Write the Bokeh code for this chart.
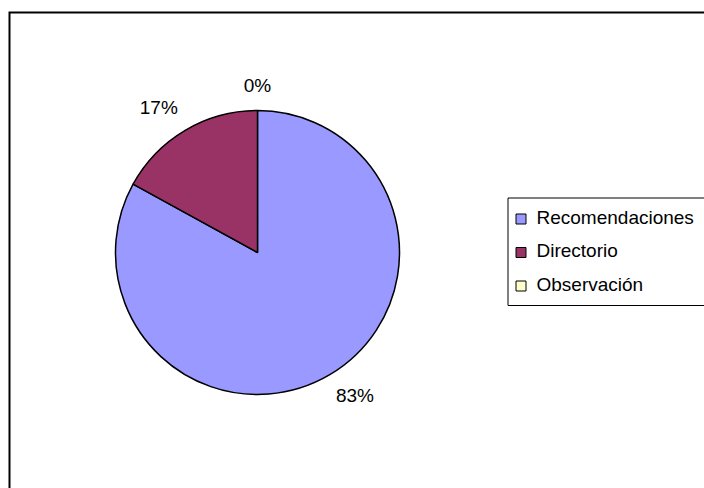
import math
from bokeh.plotting import figure
from bokeh.models import Range1d
from bokeh.core.properties import value
from bokeh.embed import file_html
from bokeh.resources import INLINE

# ---- data ----
categories = ["Recomendaciones", "Directorio", "Observación"]
percentages = [83, 17, 0]
pct_labels = ["83%", "17%", "0%"]
colors = ["#9999FF", "#993366", "#FFFFCC"]

W, H = 704, 488
FONT = "Liberation Sans"
FS = "19px"

p = figure(width=W, height=H, output_backend="svg", toolbar_location=None,
           x_range=Range1d(0, W), y_range=Range1d(0, H),
           min_border=0, outline_line_color=None)
p.axis.visible = False
p.grid.visible = False
p.background_fill_color = "white"
p.border_fill_color = "white"

# outer chart border (left and top edges; right/bottom lie outside the window)
p.line(x=[9, 9, W + 60], y=[-60, H - 12, H - 12], line_color="black",
       line_width=2, line_join="miter")

# ---- pie ----
cx, cy, r = 257, 236, 142
total = sum(percentages)
cum = 0.0
starts, ends, mids = [], [], []
for v in percentages:
    a0 = 90 - cum / total * 360
    cum += v
    a1 = 90 - cum / total * 360
    starts.append(math.radians(a0))
    ends.append(math.radians(a1))
    mids.append(math.radians((a0 + a1) / 2))

for i in range(len(categories)):
    if percentages[i] > 0:
        p.wedge(x=cx, y=cy, radius=r, start_angle=starts[i], end_angle=ends[i],
                direction="clock", fill_color=colors[i], line_color="black",
                line_width=1.5)

# data labels
for i in range(len(categories)):
    m = mids[i]
    c, s = math.cos(m), math.sin(m)
    d = r + (14.5 if s > 0 else 12)
    lx, ly = cx + d * c, cy + d * s
    align = "left" if c > 0.15 else ("right" if c < -0.15 else "center")
    base = "bottom" if s > 0 else "top"
    p.text(x=[lx], y=[ly], text=[pct_labels[i]], text_align=align,
           text_baseline=base, text_font=value(FONT), text_font_size=FS,
           text_color="black")

# ---- legend (drawn manually; right edge outside the window) ----
lg_left, lg_top, lg_bottom = 507.5, 290.5, 183
p.quad(left=[lg_left], right=[W + 60], top=[lg_top], bottom=[lg_bottom],
       fill_color="white", line_color=None)
p.line(x=[W + 60, lg_left, lg_left, W + 60],
       y=[lg_top, lg_top, lg_bottom, lg_bottom],
       line_color="black", line_width=1, line_join="miter")
row0, step = 269.5, 33.5
sq_x = 520.5
for i, cat in enumerate(categories):
    yy = row0 - i * step
    p.rect(x=[sq_x], y=[yy], width=10, height=10, fill_color=colors[i],
           line_color="black", line_width=1)
    p.text(x=[sq_x + 15.5], y=[yy + 2], text=[cat], text_align="left",
           text_baseline="middle", text_font=value(FONT), text_font_size=FS,
           text_color="black")

open("out.html", "w").write(file_html(p, INLINE))
